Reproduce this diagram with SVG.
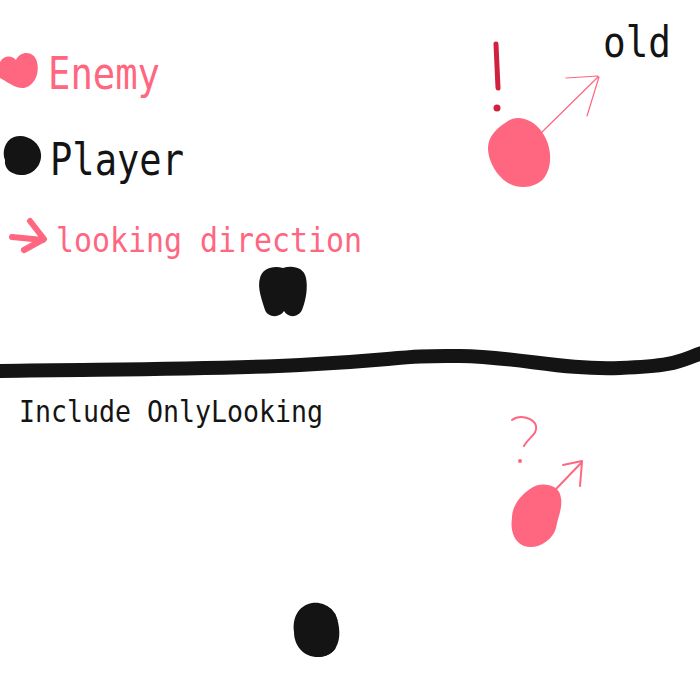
<svg xmlns="http://www.w3.org/2000/svg" width="700" height="700" viewBox="0 0 700 700">
<style>
.pink{fill:#ff6680}
.blk{fill:#141414}
.txt{font-family:"DejaVu Sans Mono","Liberation Mono",monospace}
.thin{fill:none;stroke:#ff6680;stroke-linecap:round;stroke-linejoin:round}
</style>
<rect width="700" height="700" fill="#ffffff"/>
<g id="legend">
  <g id="legend-enemy">
    <path class="pink" d="M0 62 C4 55 12 55 16 60 C20 51 34 50 37 62 C40 74 34 86 24 88 C16 89 6 81 0 78 Z"/>
    <text class="txt" x="48" y="89" font-size="44" fill="#ff6680" textLength="112" lengthAdjust="spacingAndGlyphs">Enemy</text>
  </g>
  <g id="legend-player">
    <path class="blk" d="M14 137 C26 133 40 142 41 154 C42 166 32 176 20 175 C10 174 4 168 5 160 C2 153 4 141 14 137 Z"/>
    <text class="txt" x="50" y="175" font-size="44" fill="#141414" textLength="134" lengthAdjust="spacingAndGlyphs">Player</text>
  </g>
  <g id="legend-direction">
    <path d="M12 237 L43 240 M30 221 L44 239 L24 250" fill="none" stroke="#ff6680" stroke-width="6" stroke-linecap="round" stroke-linejoin="round"/>
    <text class="txt" x="56" y="252" font-size="33" fill="#ff6680" textLength="306" lengthAdjust="spacingAndGlyphs">looking direction</text>
  </g>
</g>
<g id="old-scene">
  <text class="txt" x="603" y="57" font-size="42" fill="#141414" textLength="68" lengthAdjust="spacingAndGlyphs">old</text>
  <path d="M496 44 L498 88" stroke="#d0213f" stroke-width="5" stroke-linecap="round"/>
  <circle cx="497" cy="108" r="3.5" fill="#d0213f"/>
  <path class="pink" d="M508 121 C518 114 534 120 542 132 C552 146 553 166 544 178 C536 188 520 189 510 184 C498 178 488 162 488 148 C488 136 498 127 508 121 Z"/>
  <path class="thin" stroke-width="1.2" d="M542 132 L598 77 M566 78 L598 76 M587 116 L599 77"/>
  <path class="blk" d="M260 278 C262 268 274 265 283 268 C292 265 304 267 306 278 C308 288 306 300 302 310 C298 318 288 318 284 311 C280 318 268 318 265 310 C262 300 257 288 260 278 Z"/>
</g>
<path id="divider" d="M-5 371 C100 369 200 370 300 365 S400 355 460 356 S560 370 620 368 S680 360 705 352" fill="none" stroke="#141414" stroke-width="14" stroke-linecap="round"/>
<g id="new-scene">
  <text class="txt" x="19" y="422" font-size="30" fill="#141414" textLength="304" lengthAdjust="spacingAndGlyphs">Include OnlyLooking</text>
  <path class="thin" stroke-width="2" d="M512 420 C520 414 534 418 536 426 C538 434 528 438 524 446"/>
  <circle cx="520" cy="461" r="2" fill="#ff6680"/>
  <path class="pink" d="M530 489 C540 481 557 484 560 494 C564 506 558 516 556 528 C552 542 536 550 524 546 C514 542 510 530 512 518 C512 506 520 496 530 489 Z"/>
  <path class="thin" stroke-width="2" d="M556 489 L582 462 M563 465 L582 461 M580 486 L582 462"/>
  <path class="blk" d="M312 603 C326 601 338 612 339 628 C341 644 334 656 320 657 C304 658 294 646 294 632 C292 616 300 605 312 603 Z"/>
  <path d="M300 612 C312 600 332 604 336 620 M298 640 C304 656 326 660 334 648" fill="none" stroke="#141414" stroke-width="3" stroke-linecap="round"/>
</g>
</svg>
